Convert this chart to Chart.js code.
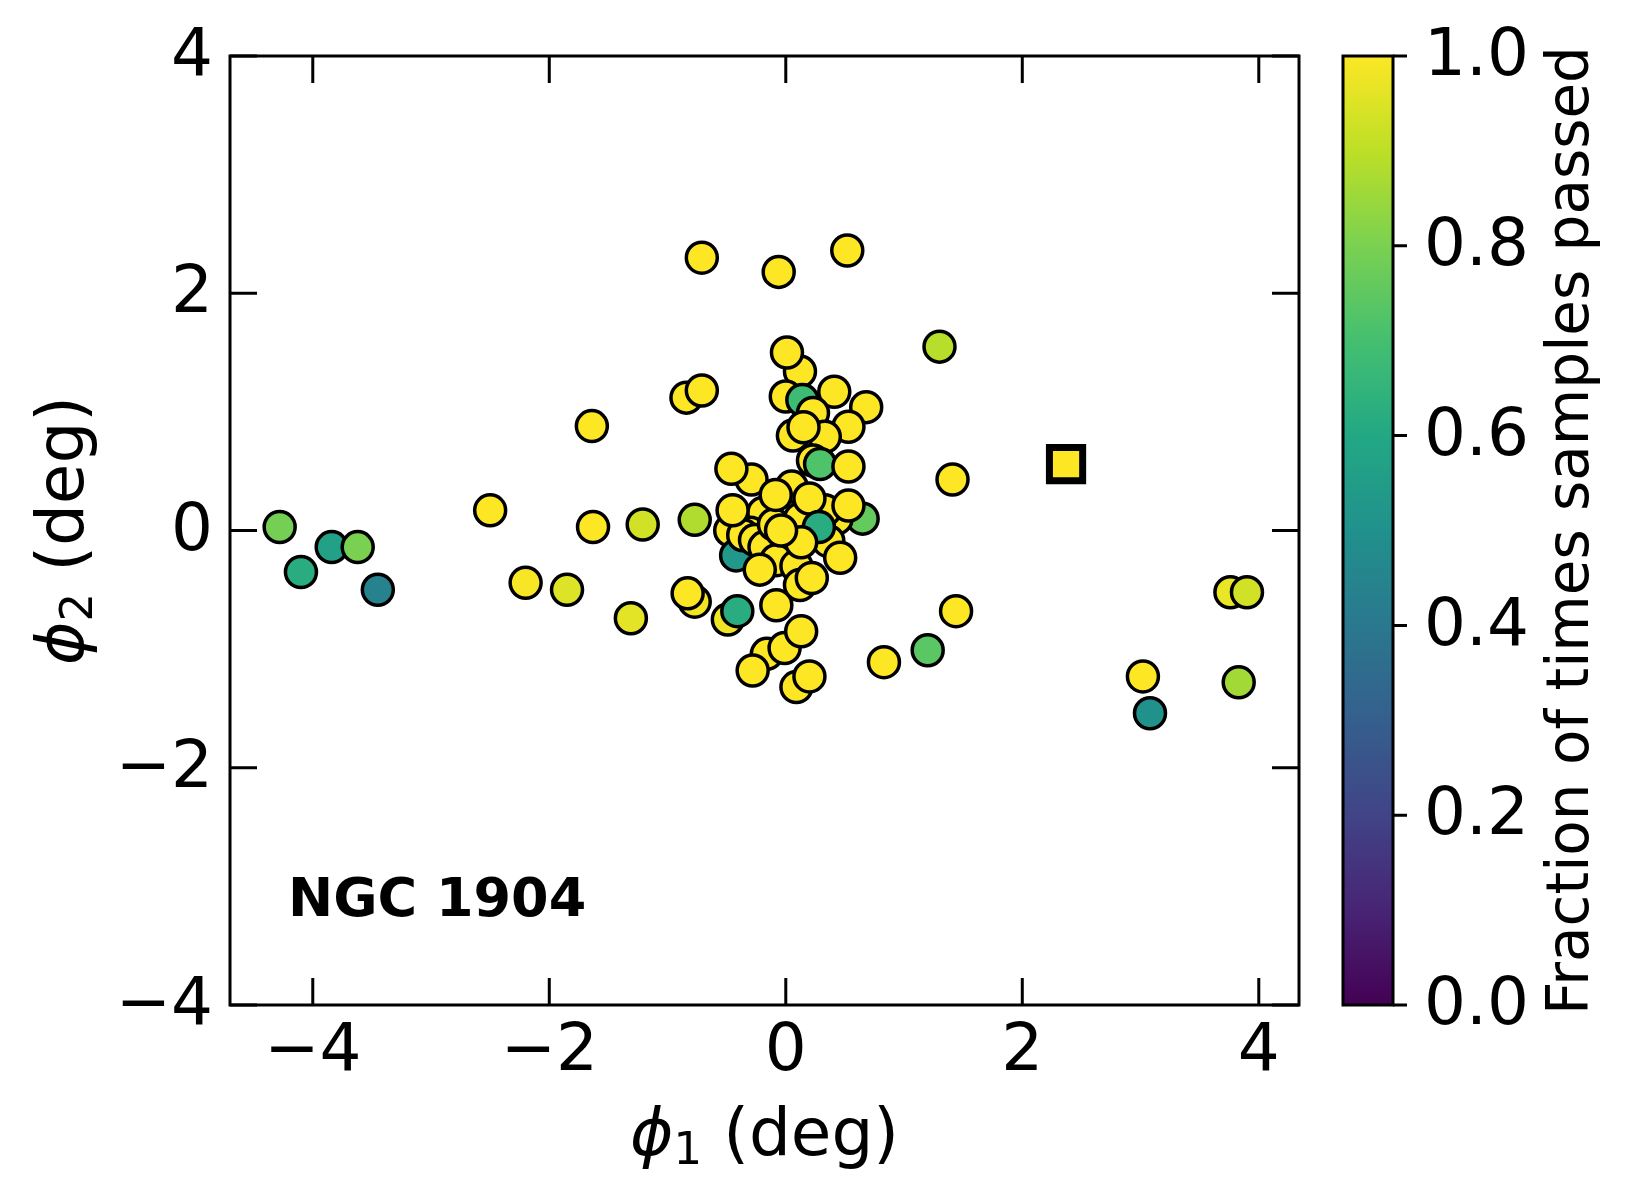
<!DOCTYPE html>
<html>
<head>
<meta charset="utf-8">
<script src="https://cdn.jsdelivr.net/npm/chart.js@4.4.1/dist/chart.umd.min.js"></script>
<style>
  body { margin: 0; background: #fff; }
  canvas { display: block; }
</style>
</head>
<body>
<canvas id="chart" width="1630" height="1200"></canvas>
<script>
// ===== data =====
const phi1 = [
  -4.28, -4.10, -3.84, -3.62, -3.45, -2.50, -2.20, -1.85, -1.63, -1.64,
  -1.31, -1.21, -0.84, -0.71, -0.71, -0.77, -0.77, -0.83, -0.49, -0.41,
  -0.06, 0.52, 1.30, 1.41, 1.44, 1.20, 0.83, 3.02, 3.08, 3.76,
  3.90, 3.83,
  -0.16, -0.28, -0.01, 0.13, 0.09, 0.20, -0.08,
  0.12, 0.01, 0.00, 0.14, 0.41, 0.23, 0.68, 0.53, 0.33, 0.06,
  0.15, 0.23, 0.29, 0.53, -0.29, -0.46,
  0.05, 0.65, 0.43, 0.33, -0.19, -0.30, -0.47, -0.42, -0.36, -0.26,
  -0.18, 0.00, -0.08, 0.09, -0.10, 0.12, 0.36,
  -0.085, 0.20, 0.53, -0.45, 0.28, 0.13, 0.46, -0.22, 0.12, 0.22, -0.04
];
const phi2 = [
  0.03, -0.35, -0.14, -0.14, -0.50, 0.17, -0.44, -0.50, 0.03, 0.88,
  -0.74, 0.05, 1.12, 1.18, 2.30, 0.09, -0.60, -0.53, -0.75, -0.68,
  2.18, 2.36, 1.55, 0.43, -0.68, -1.01, -1.11, -1.23, -1.54, -0.52,
  -0.52, -1.28,
  -1.04, -1.18, -0.99, -0.85, -1.32, -1.23, -0.63,
  1.34, 1.50, 1.13, 1.10, 1.17, 0.99, 1.04, 0.875, 0.79, 0.80,
  0.87, 0.59, 0.56, 0.54, 0.43, 0.52,
  0.37, 0.10, 0.10, 0.17, 0.15, -0.02, 0.00, -0.21, -0.04, -0.08,
  -0.14, -0.19, -0.25, -0.30, 0.05, 0.10, -0.09,
  0.30, 0.27, 0.21, 0.17, 0.03, -0.10, -0.23, -0.33, -0.46, -0.40, 0.00
];
const fracPassed = [
  0.79, 0.62, 0.57, 0.80, 0.44, 1.00, 0.99, 0.95, 1.00, 1.00,
  0.96, 0.93, 1.00, 1.00, 1.00, 0.88, 0.98, 1.00, 0.98, 0.62,
  1.00, 1.00, 0.89, 1.00, 1.00, 0.74, 1.00, 1.00, 0.50, 0.97,
  0.93, 0.86,
  1.00, 1.00, 1.00, 1.00, 1.00, 1.00, 1.00,
  1.00, 1.00, 1.00, 0.68, 1.00, 1.00, 1.00, 1.00, 1.00, 1.00,
  1.00, 1.00, 0.72, 1.00, 1.00, 1.00,
  1.00, 0.76, 1.00, 1.00, 1.00, 1.00, 1.00, 0.53, 1.00, 1.00,
  1.00, 1.00, 1.00, 1.00, 1.00, 1.00, 1.00,
  1.00, 1.00, 1.00, 1.00, 0.62, 1.00, 1.00, 1.00, 1.00, 1.00, 1.00
];
// cluster centre (square marker)
const centrePhi1 = [2.37];
const centrePhi2 = [0.56];
const centreFrac = [1.0];

const xTicks = [-4, -2, 0, 2, 4];
const yTicks = [-4, -2, 0, 2, 4];
const cbarTicks = [0.0, 0.2, 0.4, 0.6, 0.8, 1.0];
const clusterName = 'NGC 1904';

// ===== viridis colour map =====
const VIRIDIS = ['#440154', '#482475', '#414487', '#355f8d', '#2a788e', '#21918c',
                 '#22a884', '#44bf70', '#7ad151', '#bddf26', '#fde725'];

function hexToRgb(h) {
    return [parseInt(h.slice(1, 3), 16), parseInt(h.slice(3, 5), 16), parseInt(h.slice(5, 7), 16)];
}

function viridis(t) {
    t = Math.min(1, Math.max(0, t));
    const pos = t * (VIRIDIS.length - 1);
    const i = Math.min(VIRIDIS.length - 2, Math.floor(pos));
    const f = pos - i;
    const a = hexToRgb(VIRIDIS[i]), b = hexToRgb(VIRIDIS[i + 1]);
    const c = a.map((v, k) => Math.round(v + (b[k] - v) * f));
    return `rgb(${c[0]}, ${c[1]}, ${c[2]})`;
}

function fmtTick(v) {
    return v < 0 ? '\u2212' + Math.abs(v) : String(v);
}

const FONT = '"DejaVu Sans", sans-serif';
const TICK_FS = 66;
const TICK_LEN = 27;

// draw "ϕ_n (deg)" centred at (0,0) on the baseline
function drawPhiLabel(ctx, sub) {
    ctx.textBaseline = 'alphabetic';
    ctx.textAlign = 'left';
    const fPhi = `italic ${TICK_FS}px ${FONT}`;
    const fSub = `${Math.round(TICK_FS * 0.68)}px ${FONT}`;
    const fMain = `${TICK_FS}px ${FONT}`;
    ctx.font = fPhi; const wPhi = ctx.measureText('\u03D5').width;
    ctx.font = fSub; const wSub = ctx.measureText(sub).width;
    ctx.font = fMain; const wRest = ctx.measureText(' (deg)').width;
    let x = -(wPhi + wSub + wRest) / 2;
    ctx.font = fPhi; ctx.fillText('\u03D5', x, 0); x += wPhi;
    ctx.font = fSub; ctx.fillText(sub, x, 9); x += wSub;
    ctx.font = fMain; ctx.fillText(' (deg)', x, 0);
}

const decorPlugin = {
    id: 'decor',
    afterDatasetsDraw(chart) {
        const { ctx, chartArea: a, scales } = chart;
        const xs = scales.x, ys = scales.y, cs = scales.c;
        ctx.save();
        ctx.strokeStyle = '#000';
        ctx.fillStyle = '#000';
        ctx.lineWidth = 3;

        // frame + inward ticks on all sides
        ctx.strokeRect(a.left, a.top, a.right - a.left, a.bottom - a.top);
        ctx.beginPath();
        xTicks.forEach(v => {
            const px = xs.getPixelForValue(v);
            ctx.moveTo(px, a.bottom); ctx.lineTo(px, a.bottom - TICK_LEN);
            ctx.moveTo(px, a.top); ctx.lineTo(px, a.top + TICK_LEN);
        });
        yTicks.forEach(v => {
            const py = ys.getPixelForValue(v);
            ctx.moveTo(a.left, py); ctx.lineTo(a.left + TICK_LEN, py);
            ctx.moveTo(a.right, py); ctx.lineTo(a.right - TICK_LEN, py);
        });
        ctx.stroke();

        // tick labels
        ctx.font = `${TICK_FS}px ${FONT}`;
        ctx.textAlign = 'center';
        ctx.textBaseline = 'alphabetic';
        xTicks.forEach(v => ctx.fillText(fmtTick(v), xs.getPixelForValue(v), 1070));
        ctx.textAlign = 'right';
        ctx.textBaseline = 'middle';
        yTicks.forEach(v => ctx.fillText(fmtTick(v), a.left - 17, ys.getPixelForValue(v) + 2));

        // axis titles
        ctx.save();
        ctx.translate((a.left + a.right) / 2, 1155);
        drawPhiLabel(ctx, '1');
        ctx.restore();
        ctx.save();
        ctx.translate(83, (a.top + a.bottom) / 2);
        ctx.rotate(-Math.PI / 2);
        drawPhiLabel(ctx, '2');
        ctx.restore();

        // cluster name
        ctx.font = `bold 54px ${FONT}`;
        ctx.textAlign = 'left';
        ctx.textBaseline = 'alphabetic';
        ctx.fillText(clusterName, 288, 916);

        // colour bar
        const cbL = 1343, cbR = 1393;
        const cbTop = cs.getPixelForValue(1), cbBot = cs.getPixelForValue(0);
        const grad = ctx.createLinearGradient(0, cbBot, 0, cbTop);
        VIRIDIS.forEach((col, i) => grad.addColorStop(i / (VIRIDIS.length - 1), col));
        ctx.fillStyle = grad;
        ctx.fillRect(cbL, cbTop, cbR - cbL, cbBot - cbTop);
        ctx.strokeRect(cbL, cbTop, cbR - cbL, cbBot - cbTop);
        ctx.beginPath();
        cbarTicks.forEach(v => {
            const py = cs.getPixelForValue(v);
            ctx.moveTo(cbR, py); ctx.lineTo(cbR + 14, py);
        });
        ctx.stroke();
        ctx.fillStyle = '#000';
        ctx.font = `${TICK_FS}px ${FONT}`;
        ctx.textAlign = 'left';
        ctx.textBaseline = 'middle';
        cbarTicks.forEach(v => ctx.fillText(v.toFixed(1), 1424, cs.getPixelForValue(v) + 2));

        ctx.save();
        ctx.translate(1588, (cbTop + cbBot) / 2);
        ctx.rotate(-Math.PI / 2);
        ctx.font = `58px ${FONT}`;
        ctx.textAlign = 'center';
        ctx.textBaseline = 'alphabetic';
        ctx.fillText('Fraction of times samples passed', 0, 0);
        ctx.restore();

        ctx.restore();
    }
};

const starPoints = phi1.map((v, i) => ({ x: v, y: phi2[i] }));
const centrePoints = centrePhi1.map((v, i) => ({ x: v, y: centrePhi2[i] }));

Chart.defaults.font.family = FONT;

new Chart(document.getElementById('chart').getContext('2d'), {
    type: 'scatter',
    data: {
        datasets: [
            {
                label: 'stars',
                data: starPoints,
                pointBackgroundColor: fracPassed.map(viridis),
                pointBorderColor: '#000',
                pointBorderWidth: 3.5,
                pointRadius: 15.5,
                pointHoverRadius: 15.5
            },
            {
                label: 'centre',
                data: centrePoints,
                pointStyle: 'rect',
                pointBackgroundColor: centreFrac.map(viridis),
                pointBorderColor: '#000',
                pointBorderWidth: 7,
                pointRadius: 23.5,
                pointHoverRadius: 23.5
            }
        ]
    },
    options: {
        responsive: false,
        animation: false,
        devicePixelRatio: 1,
        layout: { padding: { left: 230, right: 331, top: 56, bottom: 195 } },
        plugins: {
            legend: { display: false },
            tooltip: { enabled: false }
        },
        scales: {
            x: { type: 'linear', min: -4.70, max: 4.34, display: false },
            y: { type: 'linear', min: -4, max: 4, display: false },
            c: { type: 'linear', min: 0, max: 1, display: false, position: 'right' }
        }
    },
    plugins: [decorPlugin]
});
</script>
</body>
</html>
